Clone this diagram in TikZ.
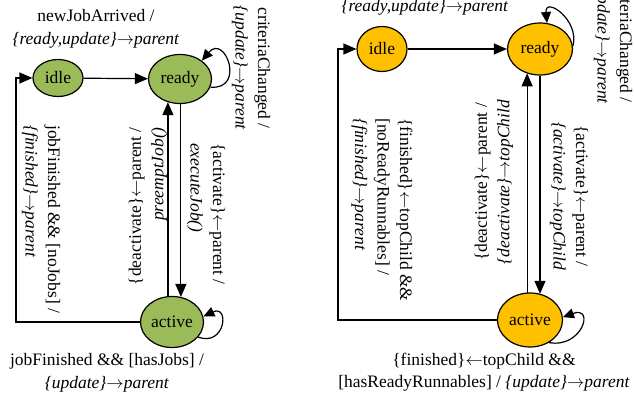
\documentclass[tikz,border=0pt]{standalone}
\usepackage{fontspec}
\setmainfont{Liberation Serif}
\usepackage{xcolor}
\definecolor{ColG}{RGB}{155,187,89}
\definecolor{ColO}{RGB}{255,192,0}
\usepackage{tikz}
\usetikzlibrary{shapes.geometric}
\usetikzlibrary{arrows.meta}
\newcommand{\ToArrow}{\ensuremath{\rightarrow}}
\newcommand{\FromArrow}{\ensuremath{\leftarrow}}
\tikzstyle{State}=[ellipse,draw=black,line width=1.2pt,inner sep=0pt,
font=\fontsize{17.5}{22.5}\selectfont]
\tikzstyle{StateG}=[State,fill=ColG]
\tikzstyle{StateO}=[State,fill=ColO]
\tikzstyle{Edge}=[draw=black,line width=1.2pt,
-{Triangle[length=13pt,width=11pt]}]
\tikzstyle{Loop}=[Edge,-{Triangle[length=11pt,width=10pt]}]
\tikzstyle{Label}=[inner sep=0pt,font=\fontsize{17.5}{22.5}\selectfont]

\begin{document}
\begin{tikzpicture}[x=1pt,y=1pt]
            \useasboundingbox(0,0)rectangle(634,-398);
            % left machine
            \node[StateG,minimum width=50pt,minimum height=37pt](idleL)at(58,-78){idle};
            \node[StateG,minimum width=63pt,minimum height=49pt](readyL)at(180,-79){ready};
            \node[StateG,minimum width=63pt,minimum height=51pt](activeL)at(172,-322){active};
            \coordinate(cornerL)at(16,-322);
            \draw[Edge](idleL)--(readyL);
            \draw[Edge](readyL.-88)--(readyL.-88|-activeL.70);
            \draw[Edge](activeL.99)--(activeL.99|-readyL.-118);
            \draw[Edge](activeL.west)--(cornerL)|-(idleL.west);
            \draw[Loop](readyL.-15)to[out=-5,in=50,looseness=3.3](readyL.40);
            \draw[Loop](activeL.-30)to[out=-20,in=25,looseness=3.5](activeL.10);
            \node[Label,align=center](newL)at(96,-29)
                {newJobArrived /\\\textit{\{ready,update\}\ToArrow parent}};
            \node[Label,align=center,rotate=-90](critL)at(251,-68)
                {criteriaChanged /\\\textit{\{update\}\ToArrow parent}};
            \node[Label,align=left,rotate=-90,anchor=west](actL)at(206,-143)
                {\{activate\}\FromArrow parent /\\\textit{executeJob()}};
            \node[Label,align=right,rotate=90,anchor=east](deaL)at(148,-127)
                {\{deactivate\}\FromArrow parent /\\\textit{preemptJob()}};
            \node[Label,align=left,rotate=-90,anchor=west](finL)at(41,-125)
                {jobFinished \&\& [noJobs] /\\\textit{\{finished\}\ToArrow parent}};
            \node[Label,align=center](hasL)at(107,-373)
                {jobFinished \&\& [hasJobs] /\\\textit{\{update\}\ToArrow parent}};
            % right machine
            \node[StateO,minimum width=50pt,minimum height=45pt](idleR)at(382,-49){idle};
            \node[StateO,minimum width=65pt,minimum height=52pt](readyR)at(540,-49){ready};
            \node[StateO,minimum width=65pt,minimum height=54pt](activeR)at(530,-320){active};
            \coordinate(cornerR)at(338,-320);
            \draw[Edge](idleR)--(readyR);
            \draw[Edge](readyR.south)--(readyR.south|-activeR.68);
            \draw[Edge](activeR.96)--(activeR.96|-readyR.-119);
            \draw[Edge](activeR.west)--(cornerR)|-(idleR.west);
            \draw[Loop](readyR.5)to[out=75,in=95,looseness=2](readyR.75);
            \draw[Loop](activeR.-50)to[out=-10,in=20,looseness=3](activeR.5);
            \node[Label](newR)at(425,-7)
                {\textit{\{ready,update\}\ToArrow parent}};
            \node[Label,align=center,rotate=-90](critR)at(613,-42)
                {criteriaChanged /\\\textit{\{update\}\ToArrow parent}};
            \node[Label,align=center,rotate=-90](actR)at(569,-196)
                {\{activate\}\FromArrow parent /\\\textit{\{activate\}\ToArrow topChild}};
            \node[Label,align=center,rotate=90](deaR)at(494,-182)
                {\{deactivate\}\FromArrow parent /\\\textit{\{deactivate\}\ToArrow topChild}};
            \node[Label,align=left,rotate=-90,anchor=west](finR)at(382,-118)
                {\{finished\}\FromArrow topChild \&\&\\{}[noReadyRunnables] /\\\textit{\{finished\}\ToArrow parent}};
            \node[Label,align=center](hasR)at(484,-372)
                {\{finished\}\FromArrow topChild \&\&\\{}[hasReadyRunnables] / \textit{\{update\}\ToArrow parent}};
\end{tikzpicture}
\end{document}
